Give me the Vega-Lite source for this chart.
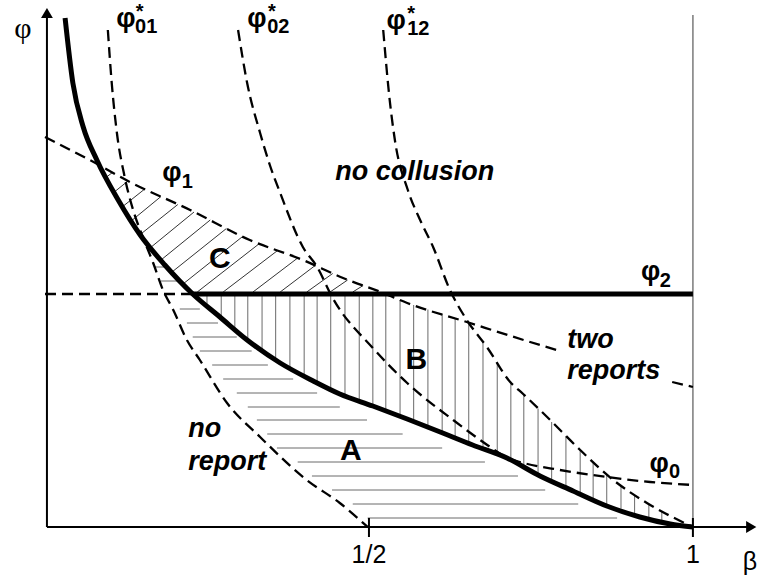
{
  "$schema": "https://vega.github.io/schema/vega-lite/v6.json",
  "width": 714,
  "height": 522,
  "autosize": {"type": "none"},
  "padding": {"left": 45, "top": 5, "right": 0, "bottom": 53},
  "background": "white",
  "config": {"view": {"stroke": null}},
  "datasets": {
    "hatchB": [
      {"b":0.250,"t":0.466,"u":0.442},{"b":0.272,"t":0.466,"u":0.418},{"b":0.293,"t":0.466,"u":0.394},{"b":0.313,"t":0.466,"u":0.373},
      {"b":0.335,"t":0.466,"u":0.353},{"b":0.356,"t":0.466,"u":0.334},{"b":0.378,"t":0.466,"u":0.317},{"b":0.400,"t":0.466,"u":0.302},
      {"b":0.420,"t":0.466,"u":0.288},{"b":0.441,"t":0.466,"u":0.275},{"b":0.463,"t":0.466,"u":0.262},{"b":0.485,"t":0.466,"u":0.252},
      {"b":0.506,"t":0.466,"u":0.242},{"b":0.526,"t":0.466,"u":0.232},{"b":0.548,"t":0.454,"u":0.221},{"b":0.569,"t":0.444,"u":0.210},
      {"b":0.591,"t":0.435,"u":0.199},{"b":0.613,"t":0.426,"u":0.188},{"b":0.633,"t":0.418,"u":0.178},{"b":0.654,"t":0.409,"u":0.167},
      {"b":0.676,"t":0.371,"u":0.156},{"b":0.698,"t":0.330,"u":0.146},{"b":0.719,"t":0.288,"u":0.134},{"b":0.739,"t":0.264,"u":0.122},
      {"b":0.761,"t":0.237,"u":0.108},{"b":0.782,"t":0.210,"u":0.095},{"b":0.804,"t":0.182,"u":0.082},{"b":0.826,"t":0.154,"u":0.070},
      {"b":0.846,"t":0.130,"u":0.058},{"b":0.867,"t":0.105,"u":0.046},{"b":0.889,"t":0.083,"u":0.037},{"b":0.910,"t":0.064,"u":0.027},
      {"b":0.932,"t":0.046,"u":0.020},{"b":0.952,"t":0.032,"u":0.014}
    ],
    "hatchA": [
      {"f":0.520,"b1":0.170,"b2":0.188},{"f":0.492,"b1":0.179,"b2":0.210},{"f":0.436,"b1":0.208,"b2":0.239},
      {"f":0.408,"b1":0.219,"b2":0.267},{"f":0.380,"b1":0.228,"b2":0.296},{"f":0.352,"b1":0.239,"b2":0.319},
      {"f":0.324,"b1":0.258,"b2":0.344},{"f":0.296,"b1":0.275,"b2":0.383},{"f":0.268,"b1":0.296,"b2":0.420},
      {"f":0.240,"b1":0.313,"b2":0.455},{"f":0.214,"b1":0.327,"b2":0.497},{"f":0.186,"b1":0.343,"b2":0.552},
      {"f":0.158,"b1":0.358,"b2":0.613},{"f":0.130,"b1":0.390,"b2":0.679},{"f":0.102,"b1":0.412,"b2":0.730},
      {"f":0.074,"b1":0.443,"b2":0.772},{"f":0.046,"b1":0.475,"b2":0.823},{"f":0.018,"b1":0.498,"b2":0.883}
    ],
    "hatchC": [
      {"b1":0.094,"f1":0.699,"b2":0.104,"f2":0.709},{"b1":0.106,"f1":0.669,"b2":0.128,"f2":0.692},
      {"b1":0.119,"f1":0.640,"b2":0.154,"f2":0.676},{"b1":0.133,"f1":0.612,"b2":0.179,"f2":0.661},
      {"b1":0.146,"f1":0.584,"b2":0.205,"f2":0.645},{"b1":0.163,"f1":0.559,"b2":0.230,"f2":0.630},
      {"b1":0.179,"f1":0.534,"b2":0.255,"f2":0.614},{"b1":0.196,"f1":0.510,"b2":0.280,"f2":0.597},
      {"b1":0.213,"f1":0.486,"b2":0.305,"f2":0.581},{"b1":0.235,"f1":0.470,"b2":0.331,"f2":0.567},
      {"b1":0.275,"f1":0.470,"b2":0.359,"f2":0.553},{"b1":0.321,"f1":0.470,"b2":0.390,"f2":0.538},
      {"b1":0.363,"f1":0.470,"b2":0.417,"f2":0.523},{"b1":0.404,"f1":0.470,"b2":0.444,"f2":0.507},
      {"b1":0.440,"f1":0.470,"b2":0.467,"f2":0.494},{"b1":0.475,"f1":0.470,"b2":0.491,"f2":0.483}
    ],
    "dashed": [
      {"c":"phi1a","b":0.0,"f":0.780},{"c":"phi1a","b":0.069,"f":0.734},{"c":"phi1a","b":0.131,"f":0.690},
      {"c":"phi1a","b":0.224,"f":0.634},{"c":"phi1a","b":0.316,"f":0.574},{"c":"phi1a","b":0.398,"f":0.534},
      {"c":"phi1a","b":0.460,"f":0.498},{"c":"phi1a","b":0.522,"f":0.468},{"c":"phi1a","b":0.559,"f":0.448},
      {"c":"phi1a","b":0.651,"f":0.410},{"c":"phi1a","b":0.764,"f":0.364},{"c":"phi1a","b":0.790,"f":0.354},
      {"c":"phi1b","b":0.968,"f":0.290},{"c":"phi1b","b":1.0,"f":0.280},
      {"c":"phi2d","b":0.0,"f":0.466},{"c":"phi2d","b":0.228,"f":0.466},
      {"c":"phi0","b":0.718,"f":0.136},{"c":"phi0","b":0.733,"f":0.130},{"c":"phi0","b":0.795,"f":0.114},
      {"c":"phi0","b":0.867,"f":0.100},{"c":"phi0","b":0.934,"f":0.090},{"c":"phi0","b":1.0,"f":0.084},
      {"c":"s01","b":0.097,"f":0.994},{"c":"s01","b":0.103,"f":0.888},{"c":"s01","b":0.111,"f":0.788},
      {"c":"s01","b":0.123,"f":0.700},{"c":"s01","b":0.136,"f":0.634},{"c":"s01","b":0.151,"f":0.580},
      {"c":"s01","b":0.167,"f":0.528},{"c":"s01","b":0.182,"f":0.474},{"c":"s01","b":0.198,"f":0.434},
      {"c":"s01","b":0.219,"f":0.374},{"c":"s01","b":0.239,"f":0.334},{"c":"s01","b":0.281,"f":0.248},
      {"c":"s01","b":0.332,"f":0.180},{"c":"s01","b":0.404,"f":0.094},{"c":"s01","b":0.455,"f":0.048},
      {"c":"s01","b":0.498,"f":0.0},
      {"c":"s02","b":0.298,"f":0.994},{"c":"s02","b":0.312,"f":0.888},{"c":"s02","b":0.332,"f":0.788},
      {"c":"s02","b":0.347,"f":0.724},{"c":"s02","b":0.363,"f":0.668},{"c":"s02","b":0.398,"f":0.560},
      {"c":"s02","b":0.420,"f":0.520},{"c":"s02","b":0.444,"f":0.458},{"c":"s02","b":0.506,"f":0.358},
      {"c":"s02","b":0.559,"f":0.288},{"c":"s02","b":0.630,"f":0.214},{"c":"s02","b":0.687,"f":0.160},
      {"c":"s02","b":0.713,"f":0.138},
      {"c":"s12","b":0.522,"f":0.994},{"c":"s12","b":0.532,"f":0.854},{"c":"s12","b":0.540,"f":0.774},
      {"c":"s12","b":0.560,"f":0.674},{"c":"s12","b":0.579,"f":0.614},{"c":"s12","b":0.599,"f":0.560},
      {"c":"s12","b":0.625,"f":0.474},{"c":"s12","b":0.651,"f":0.414},{"c":"s12","b":0.682,"f":0.360},
      {"c":"s12","b":0.718,"f":0.290},{"c":"s12","b":0.738,"f":0.266},{"c":"s12","b":0.775,"f":0.220},
      {"c":"s12","b":0.826,"f":0.154},{"c":"s12","b":0.877,"f":0.094},{"c":"s12","b":0.929,"f":0.048},
      {"c":"s12","b":1.0,"f":0.0}
    ],
    "solid": [
      {"c":"main","b":0.031,"f":1.018},{"c":"main","b":0.043,"f":0.888},{"c":"main","b":0.059,"f":0.800},
      {"c":"main","b":0.080,"f":0.734},{"c":"main","b":0.113,"f":0.654},{"c":"main","b":0.147,"f":0.584},
      {"c":"main","b":0.185,"f":0.524},{"c":"main","b":0.228,"f":0.466},{"c":"main","b":0.270,"f":0.420},
      {"c":"main","b":0.312,"f":0.374},{"c":"main","b":0.363,"f":0.328},{"c":"main","b":0.414,"f":0.292},
      {"c":"main","b":0.455,"f":0.266},{"c":"main","b":0.506,"f":0.242},{"c":"main","b":0.559,"f":0.216},
      {"c":"main","b":0.610,"f":0.190},{"c":"main","b":0.660,"f":0.164},{"c":"main","b":0.713,"f":0.138},
      {"c":"main","b":0.764,"f":0.102},{"c":"main","b":0.815,"f":0.072},{"c":"main","b":0.867,"f":0.042},
      {"c":"main","b":0.918,"f":0.020},{"c":"main","b":0.965,"f":0.006},{"c":"main","b":1.0,"f":0.0},
      {"c":"phi2","b":0.228,"f":0.466},{"c":"phi2","b":1.0,"f":0.466}
    ]
  },
  "encoding": {
    "x": {"type": "quantitative", "scale": {"domain": [0, 1.102], "nice": false, "zero": false}, "axis": null},
    "y": {"type": "quantitative", "scale": {"domain": [0, 1.044], "nice": false, "zero": false}, "axis": null}
  },
  "layer": [
    {
      "data": {"name": "hatchB"},
      "mark": {"type": "rule", "stroke": "#6a6a6a", "strokeWidth": 1},
      "encoding": {"x": {"field": "b"}, "y": {"field": "t"}, "y2": {"field": "u"}}
    },
    {
      "data": {"name": "hatchA"},
      "mark": {"type": "rule", "stroke": "#6a6a6a", "strokeWidth": 1},
      "encoding": {"x": {"field": "b1"}, "x2": {"field": "b2"}, "y": {"field": "f"}}
    },
    {
      "data": {"name": "hatchC"},
      "mark": {"type": "rule", "stroke": "#333333", "strokeWidth": 1},
      "encoding": {"x": {"field": "b1"}, "y": {"field": "f1"}, "x2": {"field": "b2"}, "y2": {"field": "f2"}}
    },
    {
      "data": {"values": [{"b": 1.0, "f1": 0.0, "f2": 1.024}]},
      "mark": {"type": "rule", "stroke": "#7a7a7a", "strokeWidth": 1.5},
      "encoding": {"x": {"field": "b"}, "y": {"field": "f1"}, "y2": {"field": "f2"}}
    },
    {
      "data": {"name": "dashed"},
      "mark": {"type": "line", "stroke": "black", "strokeWidth": 2.3, "strokeDash": [11, 6], "interpolate": "monotone", "strokeCap": "butt"},
      "encoding": {"x": {"field": "b"}, "y": {"field": "f"}, "detail": {"field": "c"}}
    },
    {
      "data": {"name": "solid"},
      "mark": {"type": "line", "stroke": "black", "strokeWidth": 5, "interpolate": "monotone", "strokeCap": "butt"},
      "encoding": {"x": {"field": "b"}, "y": {"field": "f"}, "detail": {"field": "c"}}
    },
    {
      "data": {"values": [
        {"b1": 0.003, "f1": 0.0, "b2": 1.085, "f2": 0.0},
        {"b1": 0.003, "f1": 0.0, "b2": 0.003, "f2": 1.02},
        {"b1": 0.5, "f1": -0.02, "b2": 0.5, "f2": 0.018},
        {"b1": 1.0, "f1": -0.02, "b2": 1.0, "f2": 0.018}
      ]},
      "mark": {"type": "rule", "stroke": "black", "strokeWidth": 2},
      "encoding": {"x": {"field": "b1"}, "y": {"field": "f1"}, "x2": {"field": "b2"}, "y2": {"field": "f2"}}
    },
    {
      "data": {"values": [{"b": 1.09, "f": 0.0}]},
      "mark": {"type": "point", "shape": "triangle-right", "filled": true, "color": "black", "size": 140, "opacity": 1},
      "encoding": {"x": {"field": "b"}, "y": {"field": "f"}}
    },
    {
      "data": {"values": [{"b": 0.003, "f": 1.028}]},
      "mark": {"type": "point", "shape": "triangle-up", "filled": true, "color": "black", "size": 140, "opacity": 1},
      "encoding": {"x": {"field": "b"}, "y": {"field": "f"}}
    },
    {
      "data": {"values": [
        {"t": "φ", "b": 0.110, "f": 1.0}, {"t": "φ", "b": 0.312, "f": 1.0}, {"t": "φ", "b": 0.527, "f": 0.996},
        {"t": "φ", "b": 0.181, "f": 0.692}, {"t": "φ", "b": 0.920, "f": 0.494}, {"t": "φ", "b": 0.933, "f": 0.11}
      ]},
      "mark": {"type": "text", "font": "Liberation Sans", "fontWeight": "bold", "fontSize": 27, "align": "left", "baseline": "alphabetic", "color": "black"},
      "encoding": {"x": {"field": "b"}, "y": {"field": "f"}, "text": {"field": "t"}}
    },
    {
      "data": {"values": [
        {"t": "01", "b": 0.139, "f": 0.988}, {"t": "02", "b": 0.343, "f": 0.988}, {"t": "12", "b": 0.559, "f": 0.984},
        {"t": "1", "b": 0.211, "f": 0.678}, {"t": "2", "b": 0.949, "f": 0.48}, {"t": "0", "b": 0.963, "f": 0.098}
      ]},
      "mark": {"type": "text", "font": "Liberation Sans", "fontWeight": "bold", "fontSize": 20, "align": "left", "baseline": "alphabetic", "color": "black"},
      "encoding": {"x": {"field": "b"}, "y": {"field": "f"}, "text": {"field": "t"}}
    },
    {
      "data": {"values": [
        {"t": "*", "b": 0.140, "f": 1.050}, {"t": "*", "b": 0.344, "f": 1.050}, {"t": "*", "b": 0.559, "f": 1.046}
      ]},
      "mark": {"type": "text", "font": "Liberation Sans", "fontWeight": "bold", "fontSize": 20, "align": "left", "baseline": "top", "color": "black"},
      "encoding": {"x": {"field": "b"}, "y": {"field": "f"}, "text": {"field": "t"}}
    },
    {
      "data": {"values": [
        {"t": "C", "b": 0.270, "f": 0.536}, {"t": "B", "b": 0.573, "f": 0.334}, {"t": "A", "b": 0.472, "f": 0.152}
      ]},
      "mark": {"type": "text", "font": "Liberation Sans", "fontWeight": "bold", "fontSize": 30, "align": "center", "baseline": "middle", "color": "black"},
      "encoding": {"x": {"field": "b"}, "y": {"field": "f"}, "text": {"field": "t"}}
    },
    {
      "data": {"values": [
        {"t": "no collusion", "b": 0.448, "f": 0.694},
        {"t": "two", "b": 0.806, "f": 0.358},
        {"t": "reports", "b": 0.806, "f": 0.296},
        {"t": "no", "b": 0.221, "f": 0.180},
        {"t": "report", "b": 0.221, "f": 0.114}
      ]},
      "mark": {"type": "text", "font": "Liberation Sans", "fontWeight": "bold", "fontStyle": "italic", "fontSize": 27, "align": "left", "baseline": "alphabetic", "color": "black"},
      "encoding": {"x": {"field": "b"}, "y": {"field": "f"}, "text": {"field": "t"}}
    },
    {
      "data": {"values": [
        {"t": "1/2", "b": 0.5, "f": -0.072}, {"t": "1", "b": 1.0, "f": -0.072}, {"t": "β", "b": 1.088, "f": -0.086}
      ]},
      "mark": {"type": "text", "font": "Liberation Sans", "fontSize": 25, "align": "center", "baseline": "alphabetic", "color": "black"},
      "encoding": {"x": {"field": "b"}, "y": {"field": "f"}, "text": {"field": "t"}}
    },
    {
      "data": {"values": [{"t": "φ", "b": -0.034, "f": 0.978}]},
      "mark": {"type": "text", "font": "Liberation Serif", "fontSize": 30, "align": "center", "baseline": "alphabetic", "color": "black"},
      "encoding": {"x": {"field": "b"}, "y": {"field": "f"}, "text": {"field": "t"}}
    }
  ]
}
